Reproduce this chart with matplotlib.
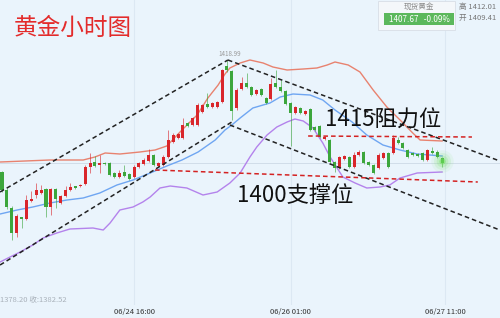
import matplotlib
matplotlib.use('Agg')
import matplotlib.pyplot as plt
import numpy as np

plt.rcParams['font.family'] = ['Noto Sans CJK SC', 'DejaVu Sans']

# hourly candles
opens = [1397.6, 1394.0, 1390.4, 1385.4, 1388.6, 1388.2, 1391.8, 1393.0, 1393.4, 1394.2,
         1390.6, 1394.2, 1391.4, 1392.8, 1394.0, 1394.8, 1394.8, 1395.2, 1398.6, 1399.6,
         1399.0, 1399.4, 1399.4, 1397.4, 1396.6, 1397.6, 1397.2, 1396.6, 1398.6, 1399.2,
         1399.8, 1401.0, 1398.8, 1399.0, 1400.6, 1403.6, 1404.4, 1404.4, 1407.4, 1407.0,
         1407.0, 1409.6, 1411.2, 1410.6, 1410.6, 1411.6, 1418.8, 1417.8, 1410.4, 1414.2,
         1415.4, 1414.6, 1413.2, 1414.2, 1412.4, 1412.2, 1415.4, 1414.6, 1413.8, 1411.4,
         1409.4, 1410.4, 1409.2, 1410.2, 1406.6, 1406.8, 1404.2, 1404.0, 1399.6, 1398.4,
         1400.2, 1400.6, 1398.6, 1401.0, 1401.6, 1399.6, 1399.0, 1398.4, 1400.4, 1401.4,
         1401.4, 1404.0, 1403.4, 1402.0, 1401.4, 1401.2, 1401.4, 1400.0, 1401.8, 1401.6,
         1400.4]
closes = [1394.0, 1390.6, 1385.4, 1388.8, 1388.2, 1392.0, 1392.2, 1394.0, 1394.0, 1390.6,
          1394.2, 1392.2, 1392.8, 1394.0, 1394.6, 1394.4, 1395.0, 1398.6, 1399.4, 1398.8,
          1399.4, 1399.2, 1397.0, 1396.6, 1397.4, 1396.8, 1396.2, 1398.6, 1399.4, 1400.0,
          1401.0, 1399.0, 1399.4, 1400.6, 1404.0, 1405.0, 1405.2, 1407.0, 1406.8, 1408.4,
          1411.0, 1411.0, 1410.6, 1411.4, 1411.6, 1418.0, 1418.0, 1409.8, 1414.0, 1415.4,
          1414.6, 1413.0, 1414.0, 1413.0, 1411.4, 1415.2, 1414.6, 1413.8, 1411.2, 1409.4,
          1410.6, 1409.4, 1409.8, 1406.0, 1406.0, 1404.6, 1404.6, 1399.6, 1398.4, 1400.6,
          1400.8, 1398.6, 1401.0, 1401.6, 1399.4, 1399.0, 1397.4, 1401.0, 1401.4, 1398.6,
          1404.4, 1403.4, 1402.4, 1400.6, 1401.0, 1400.8, 1400.0, 1402.0, 1401.4, 1400.6,
          1399.4]
highs = [1397.8, 1394.4, 1390.8, 1389.2, 1388.6, 1393.0, 1393.8, 1395.4, 1395.0, 1394.4,
         1394.4, 1394.4, 1393.0, 1394.8, 1395.4, 1394.8, 1395.2, 1399.0, 1401.4, 1400.8,
         1401.0, 1399.6, 1399.6, 1397.6, 1398.0, 1399.0, 1397.4, 1399.0, 1399.6, 1400.4,
         1402.2, 1401.2, 1399.6, 1401.0, 1406.0, 1405.4, 1405.4, 1408.4, 1407.6, 1408.6,
         1411.4, 1411.2, 1413.4, 1411.6, 1411.8, 1418.2, 1420.0, 1418.0, 1414.4, 1416.6,
         1417.4, 1414.8, 1414.2, 1414.4, 1412.6, 1416.4, 1418.0, 1416.0, 1414.0, 1411.6,
         1410.8, 1410.6, 1410.0, 1410.4, 1406.8, 1407.0, 1404.8, 1404.2, 1399.8, 1400.8,
         1401.0, 1400.8, 1401.6, 1402.0, 1401.8, 1399.8, 1399.2, 1401.4, 1401.6, 1401.6,
         1405.0, 1404.6, 1403.6, 1402.2, 1401.6, 1401.4, 1401.6, 1402.2, 1402.6, 1402.0,
         1400.6]
lows = [1393.6, 1390.2, 1384.0, 1384.6, 1386.4, 1388.0, 1391.6, 1392.4, 1393.2, 1388.6,
        1389.0, 1390.4, 1391.2, 1392.6, 1393.8, 1394.2, 1394.6, 1395.0, 1397.4, 1398.6,
        1397.4, 1399.0, 1396.8, 1396.4, 1396.4, 1396.6, 1396.0, 1396.4, 1398.4, 1399.0,
        1399.6, 1398.8, 1398.6, 1398.8, 1400.4, 1403.4, 1404.2, 1404.2, 1406.6, 1406.8,
        1406.8, 1409.4, 1410.4, 1410.4, 1410.4, 1411.4, 1417.6, 1408.0, 1410.0, 1414.0,
        1414.4, 1412.8, 1413.0, 1412.8, 1411.2, 1412.0, 1414.4, 1413.6, 1411.0, 1402.8,
        1409.2, 1409.2, 1409.0, 1405.8, 1405.8, 1404.4, 1404.0, 1399.4, 1397.6, 1398.2,
        1400.0, 1398.4, 1398.4, 1400.8, 1399.2, 1398.8, 1397.2, 1398.2, 1400.2, 1398.4,
        1401.2, 1403.2, 1402.2, 1400.4, 1400.8, 1400.6, 1399.8, 1399.8, 1401.2, 1400.4,
        1398.6]

# bollinger bands (sampled along the curves)
upper_x = [-0.4, 9.8, 16.6, 19.0, 21.1, 24.1, 28.2, 31.3, 33.7, 36.8, 39.9, 42.1, 44.2, 45.6,
           46.6, 48.7, 50.7, 53.4, 55.4, 58.3, 61.6, 64.4, 66.5, 68.1, 70.8, 73.2, 75.9, 78.7,
           81.4, 84.0, 85.5, 90.0]
upper_y = [1399.6, 1400.0, 1400.0, 1400.6, 1401.4, 1401.2, 1401.6, 1402.0, 1402.8, 1406.0,
           1409.0, 1412.4, 1415.0, 1417.2, 1418.4, 1419.4, 1420.0, 1419.4, 1418.6, 1418.0,
           1418.2, 1418.4, 1419.0, 1419.6, 1419.0, 1417.6, 1414.0, 1410.6, 1408.0, 1405.4,
           1404.0, 1403.8]
mid_x = [-0.4, 3.1, 6.3, 9.8, 13.3, 16.6, 20.0, 23.5, 26.8, 30.3, 33.7, 36.8, 40.1, 43.6, 45.6,
         47.0, 48.7, 51.3, 54.8, 56.9, 59.5, 63.0, 65.6, 68.1, 71.6, 74.6, 77.9, 81.4, 84.9, 90.0]
mid_y = [1389.2, 1390.0, 1390.6, 1391.4, 1392.0, 1392.4, 1393.4, 1395.0, 1396.0, 1397.4,
         1398.8, 1400.0, 1401.6, 1404.0, 1406.0, 1407.0, 1408.4, 1410.4, 1411.4, 1412.6,
         1413.2, 1413.0, 1412.0, 1410.0, 1407.6, 1405.0, 1403.0, 1402.0, 1401.2, 1400.8]
lower_x = [-0.4, 3.7, 6.3, 8.4, 11.2, 13.9, 18.6, 20.7, 22.1, 24.1, 26.8, 28.8, 30.3, 32.3,
           34.4, 37.8, 41.1, 44.0, 46.6, 48.7, 50.7, 52.1, 54.2, 56.2, 58.3, 59.9, 61.6, 63.6,
           65.6, 67.1, 69.7, 72.2, 74.6, 77.3, 79.3, 81.4, 84.9, 90.0]
lower_y = [1379.6, 1381.6, 1383.0, 1384.4, 1385.4, 1386.2, 1386.4, 1386.0, 1387.4, 1390.0,
           1390.6, 1391.6, 1392.6, 1394.4, 1394.8, 1394.4, 1393.0, 1393.6, 1395.4, 1397.4,
           1400.6, 1402.6, 1405.0, 1406.6, 1407.6, 1408.2, 1407.8, 1406.4, 1403.4, 1400.6,
           1396.6, 1395.4, 1394.4, 1394.6, 1395.0, 1396.4, 1397.4, 1397.6]

# hand drawn trend lines: (x0, y0, x1, y1)
channel_lines = [(-0.4, 1393.6, 46.2, 1420.0),
                 (-0.4, 1379.0, 47.0, 1407.6),
                 (46.2, 1420.0, 101.8, 1399.8),
                 (46.6, 1407.0, 101.8, 1386.0)]
resist_line = (62.6, 1404.8, 96.1, 1404.6)
support_line = (31.3, 1398.0, 97.3, 1395.6)

tick_idx = [27, 59, 90.6]
tick_labels = ['06/24 16:00', '06/26 01:00', '06/27 11:00']

RED = '#d9262b'
GREEN = '#3ca63c'
BG = '#eaf4fc'

fig = plt.figure(figsize=(5, 3.18), dpi=100)
fig.patch.set_facecolor(BG)
ax = fig.add_axes([0, 13 / 318, 1, 305 / 318])
ax.set_facecolor(BG)
ax.set_xlim(-0.41, 101.84)
ax.set_ylim(1371.0, 1432.0)
for s in ax.spines.values():
    s.set_visible(False)

for t in tick_idx:
    ax.axvline(t, color='#dce8f3', lw=0.8, zorder=0)

# current price line
ax.axhline(closes[-1], color='#cdd9e6', lw=0.6, zorder=1)

x = np.arange(len(opens))
o = np.array(opens)
c = np.array(closes)
up = c >= o
cols = np.where(up, RED, GREEN)
ax.vlines(x, lows, highs, colors=cols, lw=0.7, alpha=0.6, zorder=3)
ax.bar(x, np.maximum(np.abs(c - o), 0.25), bottom=np.minimum(o, c), width=0.62,
       color=cols, zorder=4, linewidth=0)

ax.plot(upper_x, upper_y, color='#e8826f', lw=1.0, zorder=2)
ax.plot(mid_x, mid_y, color='#6fa6f2', lw=1.0, zorder=2)
ax.plot(lower_x, lower_y, color='#b483ec', lw=1.0, zorder=2)

for (x0, y0, x1, y1) in channel_lines:
    ax.plot([x0, x1], [y0, y1], color='#222222', lw=1.1, ls=(0, (3, 2)), zorder=5)
for (x0, y0, x1, y1) in [resist_line, support_line]:
    ax.plot([x0, x1], [y0, y1], color='#d42222', lw=1.1, ls=(0, (3, 2)), zorder=5)

# glow on last candle
for s, a in [(260, 0.08), (150, 0.12), (70, 0.2), (20, 0.5)]:
    ax.scatter([x[-1]], [closes[-1] + 0.4], s=s, color='#6fe05a', alpha=a, lw=0, zorder=6)

ax.set_xticks(tick_idx)
ax.set_xticklabels(tick_labels)
ax.tick_params(axis='x', length=0, pad=2.5, labelsize=5.5, labelcolor='#333333')
ax.set_yticks([])

# peak label
ax.text(46.5, highs[46] + 0.5, '1418.99', fontsize=4.5, color='#999999',
        ha='center', va='bottom', zorder=7)

def px(xp, yp):
    return xp / 500, 1 - yp / 318

fig.text(*px(14, 28), '黄金小时图', color='#e32b2b', fontsize=17, va='center', ha='left')
fig.text(*px(325, 120), '1415阻力位', color='#111111', fontsize=16, va='center', ha='left')
fig.text(*px(237, 195), '1400支撑位', color='#111111', fontsize=16, va='center', ha='left')

# quote box
fig.patches.append(plt.Rectangle(px(378, 30), 77 / 500, 29 / 318, transform=fig.transFigure,
                                 facecolor='#f4f7fa', edgecolor='#d8dee6', lw=0.6))
fig.patches.append(plt.Rectangle(px(384, 25), 70 / 500, 12 / 318, transform=fig.transFigure,
                                 facecolor='#5cb85c', edgecolor='none'))
fig.text(*px(419, 7), '现货黄金', color='#8a8a8a', fontsize=5.5, ha='center', va='center')
fig.text(*px(419, 19), '1407.67   -0.09%', color='white', fontsize=5.8, ha='center', va='center')
fig.text(*px(459, 7), '高 1412.01', color='#777777', fontsize=5.5, ha='left', va='center')
fig.text(*px(459, 18), '开 1409.41', color='#777777', fontsize=5.5, ha='left', va='center')

fig.text(*px(0, 300), '1378.20 收:1382.52', color='#aab2bb', fontsize=5.5, ha='left', va='center')

fig.savefig('out.png', dpi=100, facecolor=BG)
